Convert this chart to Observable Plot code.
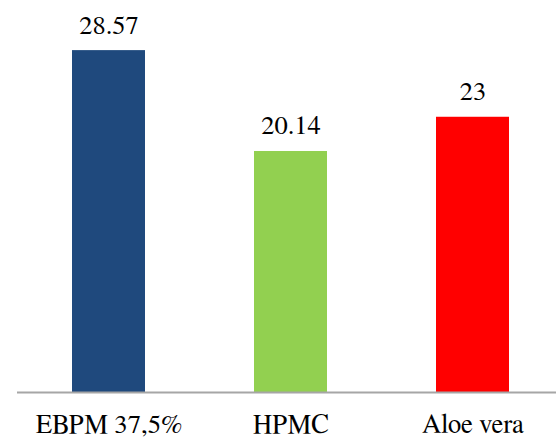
<!DOCTYPE html>
<html>
<head>
<meta charset="utf-8">
<script src="https://cdn.jsdelivr.net/npm/d3@7"></script>
<script src="https://cdn.jsdelivr.net/npm/@observablehq/plot@0.6"></script>
<style>
  html, body { margin: 0; padding: 0; background: #fff; }
  #chart svg { display: block; }
</style>
</head>
<body>
<div id="chart"></div>
<script>
const categories = ["EBPM 37,5%", "HPMC", "Aloe vera"];
const values = [28.57, 20.14, 23];
const valueLabels = ["28.57", "20.14", "23"];

const barColors = ["#1f497d", "#92d050", "#ff0000"];

const data = categories.map((c, i) => ({cat: c, value: values[i], label: valueLabels[i]}));
const serifFont = "FreeSerif, 'DejaVu Serif', serif";

const chart = Plot.plot({
  width: 556,
  height: 437,
  marginLeft: 17,
  marginRight: 0,
  marginTop: 33,
  marginBottom: 45,
  style: {background: "#fff"},
  x: {type: "band", domain: categories, paddingInner: 0.6, paddingOuter: 0.273, align: 0.54, axis: null},
  y: {domain: [0, 30], axis: null},
  color: {domain: categories, range: barColors},
  marks: [
    Plot.barY(data, {x: "cat", y: "value", fill: "cat"}),
    Plot.ruleY([0], {stroke: "#a6a6a6", strokeWidth: 2}),
    Plot.text(data, {x: "cat", y: "value", text: "label", dy: -17, lineAnchor: "bottom", fontSize: 26.5, fill: "#000"}),
    Plot.text(data, {x: "cat", y: () => 0, text: "cat", dy: 40, lineAnchor: "bottom", fontSize: 26.7, fill: "#000"})
  ]
});
chart.querySelectorAll("text").forEach(t => t.style.fontFamily = serifFont);
document.getElementById("chart").appendChild(chart);
</script>
</body>
</html>
